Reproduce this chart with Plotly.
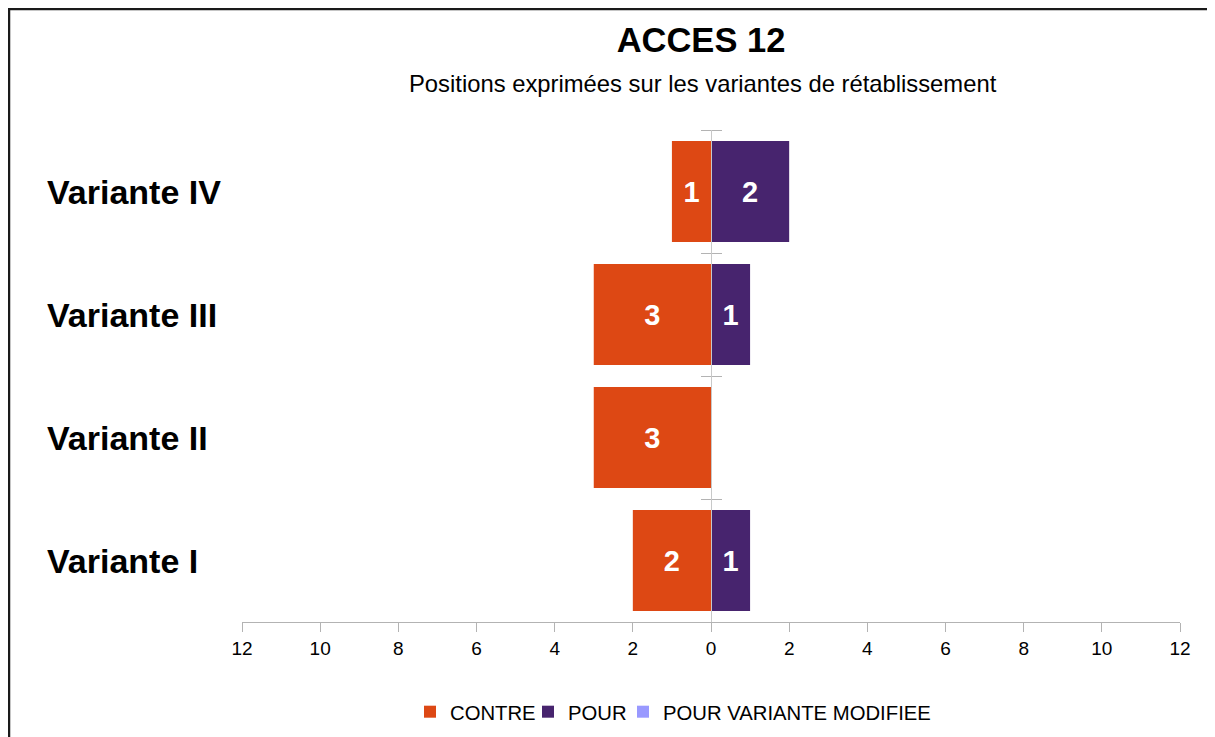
import plotly.graph_objects as go

categories = ["Variante I", "Variante II", "Variante III", "Variante IV"]
contre = [2, 3, 3, 1]
pour = [1, 0, 1, 2]
pour_modifiee = [0, 0, 0, 0]
tick_values = [-12, -10, -8, -6, -4, -2, 0, 2, 4, 6, 8, 10, 12]
tick_labels = [str(abs(v)) for v in tick_values]

title_text = "ACCES 12"
subtitle_text = "Positions exprimées sur les variantes de rétablissement"

C_CONTRE = "#DD4814"
C_POUR = "#47246E"
C_MOD = "#9999FF"
FONT = "Liberation Sans"

# page is rendered with an 8px body offset; work in figure coordinates
OFF = 8
W, H = 1215, 737
ML = 242 - OFF
MT = 130 - OFF
BOTTOM = 622 - OFF
RIGHT = 1180 - OFF
MR = W - RIGHT
MB = H - BOTTOM
PW = W - ML - MR
PH = H - MT - MB

def px_x(p):
    return (p - OFF - ML) / PW

def px_y(p):
    return (BOTTOM - (p - OFF)) / PH

fig = go.Figure()

fig.add_trace(go.Bar(
    name="CONTRE", orientation="h", y=categories,
    x=[-v for v in contre],
    text=[str(v) if v else "" for v in contre],
    marker=dict(color=C_CONTRE, line=dict(width=0)),
    width=0.82, legend="legend",
    textposition="inside", insidetextanchor="middle", constraintext="none",
    textfont=dict(family=FONT, size=29, color="white", weight="bold"),
))
fig.add_trace(go.Bar(
    name="POUR", orientation="h", y=categories,
    x=pour,
    text=[str(v) if v else "" for v in pour],
    marker=dict(color=C_POUR, line=dict(width=0)),
    width=0.82, legend="legend2",
    textposition="inside", insidetextanchor="middle", constraintext="none",
    textfont=dict(family=FONT, size=29, color="white", weight="bold"),
))
fig.add_trace(go.Bar(
    name="POUR VARIANTE MODIFIEE", orientation="h", y=categories,
    x=pour_modifiee,
    marker=dict(color=C_MOD, line=dict(width=0)),
    width=0.82, legend="legend3",
))

annotations = [
    dict(text=subtitle_text, xref="paper", yref="paper", x=px_x(703), y=px_y(83),
         xanchor="center", yanchor="middle", showarrow=False,
         font=dict(family=FONT, size=23.8, color="black")),
]
for c in categories:
    annotations.append(dict(
        text=c, xref="paper", yref="y", x=px_x(45), y=c,
        xanchor="left", yanchor="middle", showarrow=False,
        font=dict(family=FONT, size=34, color="black", weight="bold"),
    ))

def legend_at(text_start_px):
    return dict(orientation="h", x=px_x(text_start_px - 36), xanchor="left",
                y=px_y(712), yanchor="middle",
                font=dict(family=FONT, size=20.3, color="black"),
                itemsizing="constant", bgcolor="rgba(0,0,0,0)")

fig.update_layout(
    width=W, height=H,
    margin=dict(l=ML, r=MR, t=MT, b=MB, pad=0),
    paper_bgcolor="white", plot_bgcolor="white",
    barmode="relative", bargap=0.18,
    font=dict(family=FONT, color="black"),
    title=dict(text=title_text, x=px_x(701), xref="paper", xanchor="center",
               y=1 - (40 - OFF) / H, yanchor="middle",
               font=dict(family=FONT, size=34.5, color="black", weight="bold")),
    xaxis=dict(range=[-12, 12], tickmode="array", tickvals=tick_values,
               ticktext=tick_labels, showgrid=False, zeroline=False,
               showline=True, linecolor="#b3b3b3", linewidth=1.2,
               ticks="outside", ticklen=9, tickcolor="#b3b3b3",
               tickfont=dict(family=FONT, size=19, color="black"),
               fixedrange=True),
    yaxis=dict(type="category", categoryorder="array", categoryarray=categories,
               range=[-0.5, 3.5], anchor="free", position=0.5, side="left",
               showline=True, linecolor="#c8c8c8", linewidth=1.2,
               ticks="outside", tickson="boundaries", ticklen=10,
               tickcolor="#b3b3b3", showticklabels=False, showgrid=False,
               zeroline=False),
    yaxis2=dict(type="category", categoryorder="array", categoryarray=categories,
                matches="y", overlaying="y", anchor="free", position=0.5,
                side="right", showline=False, ticks="outside",
                tickson="boundaries", ticklen=10, tickcolor="#b3b3b3",
                showticklabels=False, showgrid=False, zeroline=False),
    legend=legend_at(446),
    legend2=legend_at(564),
    legend3=legend_at(659),
    annotations=annotations,
    shapes=[dict(type="rect", xref="paper", yref="paper",
                 x0=px_x(9), x1=px_x(1260), y0=px_y(780), y1=px_y(9),
                 line=dict(color="#1a1a1a", width=2.5), layer="above")],
)

# invisible trace to render the right-side ticks of the vertical axis
fig.add_trace(go.Scatter(x=[0], y=[categories[0]], yaxis="y2", mode="markers",
                         marker=dict(opacity=0), showlegend=False,
                         hoverinfo="skip"))

fig.write_html("out.html")
